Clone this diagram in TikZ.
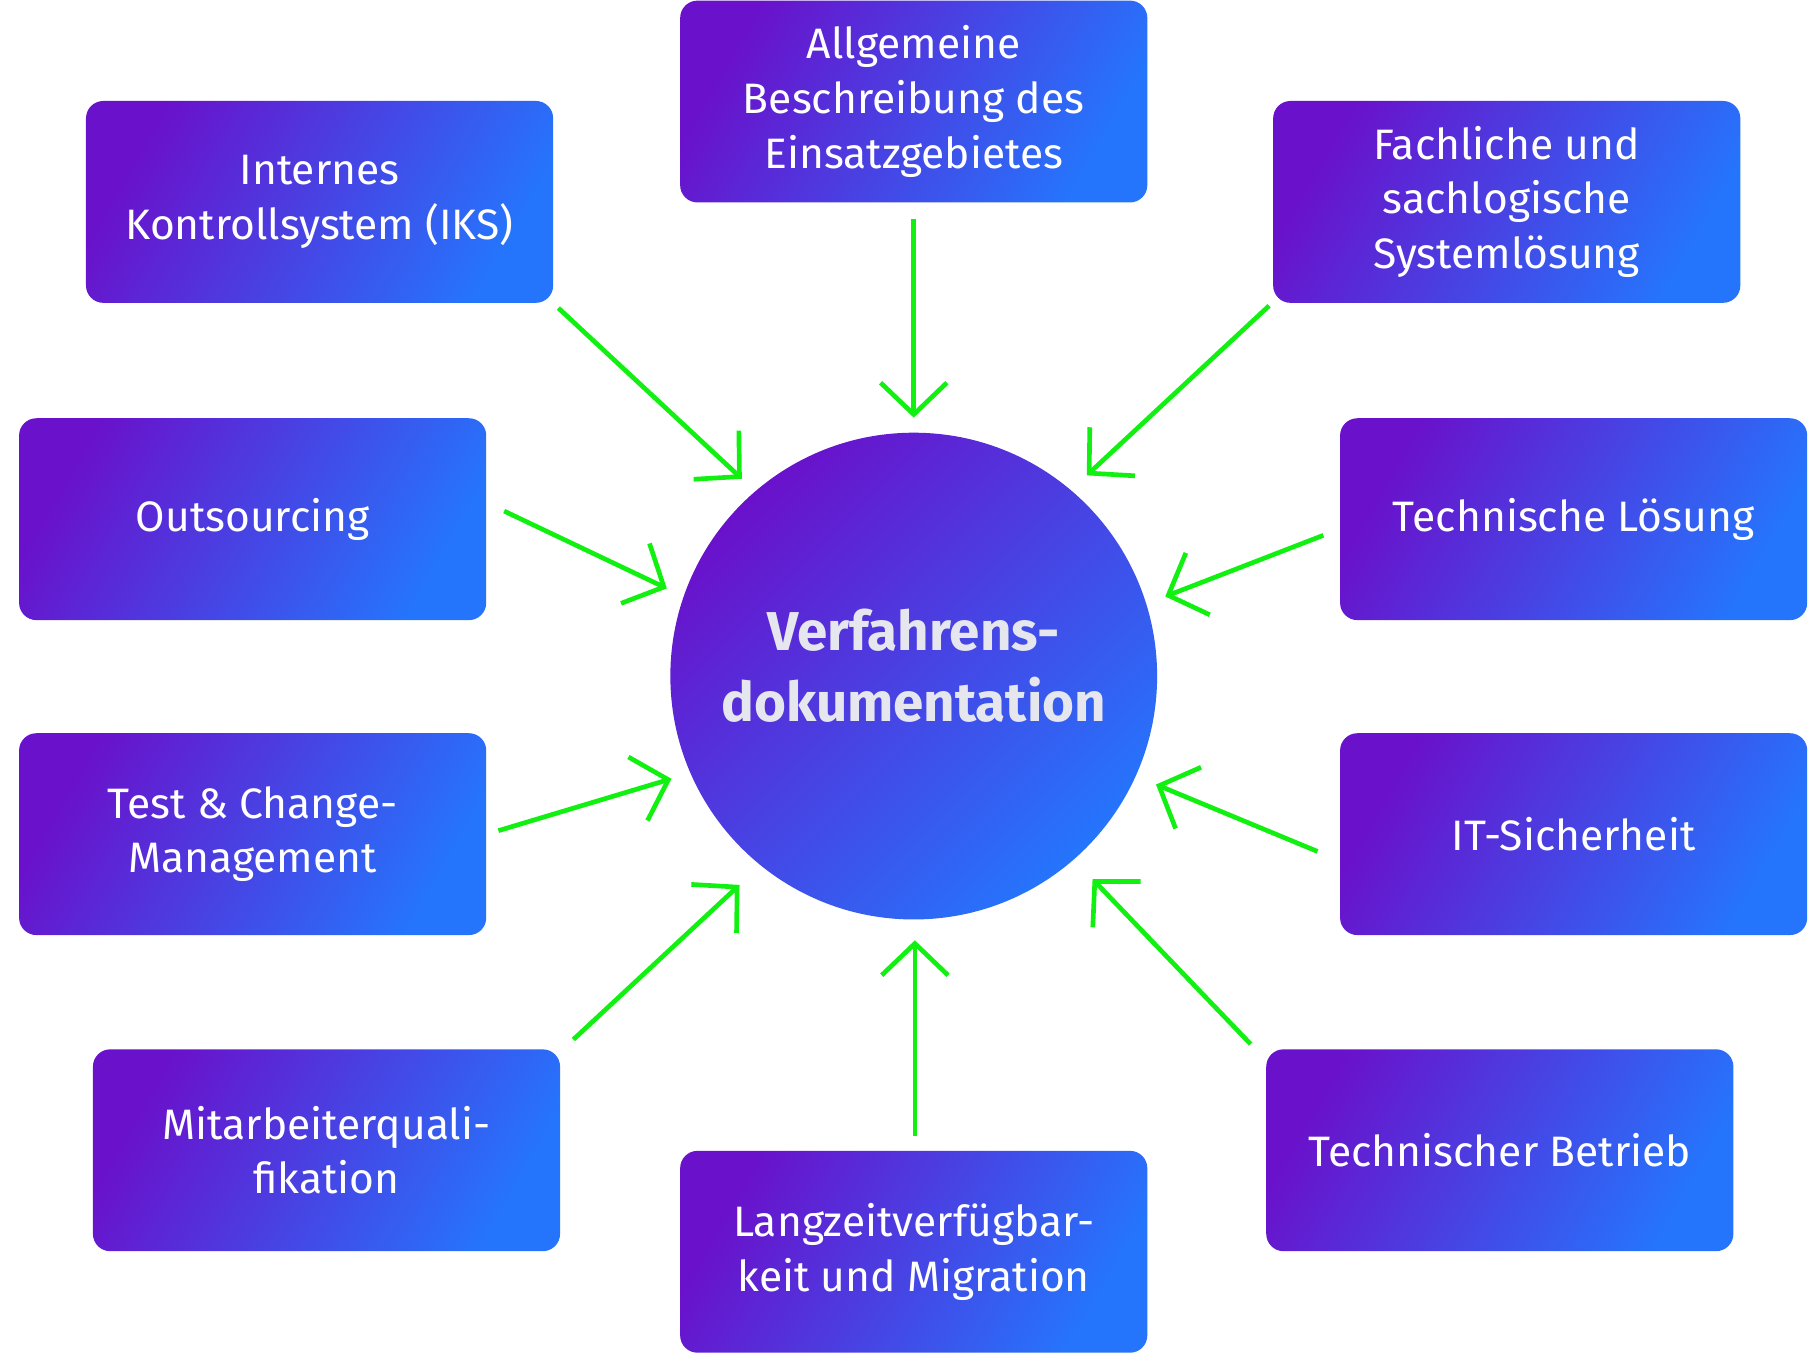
\documentclass[tikz,border=0pt]{standalone}
\usepackage{fontspec}
\setmainfont{Fira Sans}
\usetikzlibrary{arrows.meta}
\definecolor{purp}{HTML}{6A11CB}
\definecolor{blu}{HTML}{2575FC}
\definecolor{grn}{HTML}{11F011}
\definecolor{ctext}{HTML}{E6E6EE}
\tikzset{
  box/.style={rounded corners=0.3cm, minimum width=8.1cm, minimum height=3.5cm,
    left color=purp, right color=blu, shading angle=60, text=white, align=center,
    font=\fontsize{21}{27}\selectfont, inner sep=0pt},
  arr/.style={draw=grn, line width=2.3pt, -{Straight Barb[length=0.55cm,width=1.15cm,line width=2.3pt]}}
}
\begin{document}
\begin{tikzpicture}[x=0.02cm,y=-0.02cm]
\useasboundingbox[fill=white] (0,0) rectangle (1568,1174);
\node[circle, minimum size=8.44cm, inner sep=0pt, left color=purp, right color=blu, shading angle=45] (c) at (792,586) {};
\node[text=ctext, align=center, font=\bfseries\fontsize{27}{35}\selectfont] (ct) at (792,577) {Verfahrens-\\dokumentation};
\node[box] (b1) at (792,88) {Allgemeine\\Beschreibung des\\Einsatzgebietes};
\node[box] (b2) at (277,175) {Internes\\Kontrollsystem (IKS)};
\node[box] (b3) at (1306,175) {Fachliche und\\sachlogische\\Systemlösung};
\node[box] (b4) at (219,450) {Outsourcing};
\node[box] (b5) at (1364,450) {Technische Lösung};
\node[box] (b6) at (219,723) {Test \& Change-\\Management};
\node[box] (b7) at (1364,723) {IT-Sicherheit};
\node[box] (b8) at (283,997) {Mitarbeiterquali-\\fikation};
\node[box] (b9) at (1300,997) {Technischer Betrieb};
\node[box] (b10) at (792,1085) {Langzeitverfügbar-\\keit und Migration};
\coordinate (s1) at (792,190); \coordinate (e1) at (792,362);
\coordinate (s2) at (484,267); \coordinate (e2) at (643,415);
\coordinate (s3) at (1100,265); \coordinate (e3) at (942,412);
\coordinate (s4) at (437,443); \coordinate (e4) at (578,510);
\coordinate (s5) at (1147,464); \coordinate (e5) at (1010,517);
\coordinate (s6) at (432,720); \coordinate (e6) at (582,675);
\coordinate (s7) at (1142,738); \coordinate (e7) at (1002,680);
\coordinate (s8) at (497,901); \coordinate (e8) at (641,767);
\coordinate (s9) at (1084,905); \coordinate (e9) at (947,762);
\coordinate (s10) at (793,985); \coordinate (e10) at (793,815);
\foreach \i in {1,...,10} {\draw[arr] (s\i) -- (e\i);}
\end{tikzpicture}
\end{document}
